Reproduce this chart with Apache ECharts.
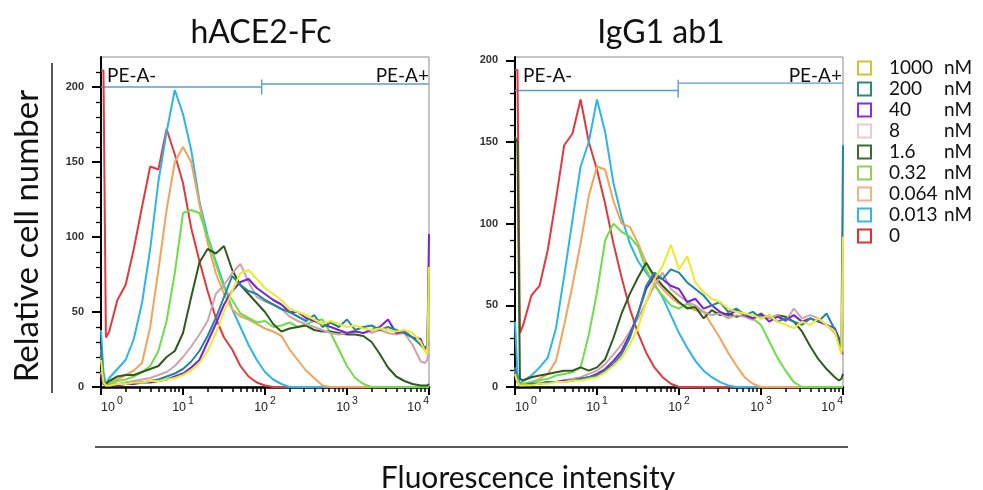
<!DOCTYPE html>
<html><head><meta charset="utf-8">
<script src="https://cdn.jsdelivr.net/npm/echarts@6/dist/echarts.min.js"></script>
<style>html,body{margin:0;padding:0;background:#fff}#c{width:983px;height:490px}</style>
</head><body><div id="c"></div>
<script>
// Fluorescence bins, in decades (log10 of intensity)
const logIntensity = [0, 0.03, 0.06,
  0.1,0.2,0.3,0.4,0.5,0.6,0.7,0.8,0.9,1.0,
  1.1,1.2,1.3,1.4,1.5,1.6,1.7,1.8,1.9,2.0,
  2.1,2.2,2.3,2.4,2.5,2.6,2.7,2.8,2.9,3.0,
  3.1,3.2,3.3,3.4,3.5,3.6,3.7,3.8,3.9,
  3.95,3.98,4.0];

const concentrations = ['1000 nM','200 nM','40 nM','8 nM','1.6 nM','0.32 nM','0.064 nM','0.013 nM','0'];
const panelTitles = ['hACE2-Fc', 'IgG1 ab1'];
const xTickExponents = [0, 1, 2, 3, 4];
const minorTickIntensities = [2,3,4,5,6,7,8,9, 20,30,40,50,60,70,80,90,
  200,300,400,500,600,700,800,900, 2000,3000,4000,5000,6000,7000,8000,9000];
const yMajorTicks = [0, 50, 100, 150, 200];
const yMinorTicksLeft = [10,20,30,40,60,70,80,90,110,120,130,140,160,170,180,190,210];
const yMinorTicksRight = [10,20,30,40,60,70,80,90,110,120,130,140,160,170,180,190];

// hACE2-Fc panel (relative cell number)
const hace2_1000 = [18,3,1, 1,2,2,3,3,4,4,5,6,8, 11,16,24,36,50,64,76,78,72,66, 62,58,52,50,48,45,42,44,42,40, 41,39,38,39,38,37,38,36,30, 24,22,80];
const hace2_200  = [28,4,1, 1,2,2,3,3,4,5,7,9,12, 17,24,34,46,60,74,68,64,62,58, 55,52,50,47,44,48,40,43,40,45, 38,40,41,38,40,38,36,33,28, 25,28,80];
const hace2_40   = [8,2,1, 1,1,2,2,3,3,4,5,7,9, 13,18,30,42,55,64,70,72,66,62, 58,55,50,50,46,44,42,40,38,36, 37,36,38,40,45,36,37,33,32, 25,28,102];
const hace2_8    = [10,2,1, 1,2,3,4,5,6,8,10,14,20, 27,35,44,62,68,76,82,70,60,57, 55,52,47,44,42,40,38,36,35,36, 38,40,36,38,36,35,36,28,17, 16,18,30];
const hace2_1p6  = [12,3,2, 4,7,8,8,10,12,14,20,24,36, 60,83,92,89,94,78,68,62,56,50, 42,37,39,40,41,38,37,37,36,35, 35,34,30,22,13,7,4,2,1, 1,1,2];
const hace2_0p32 = [20,5,1, 2,4,5,7,10,14,24,44,76,116, 118,116,100,82,66,58,49,46,43,44, 40,41,43,40,42,44,45,36,25,14, 6,2,0,0,0,0,0,0,0, 0,0,0];
const hace2_0p064= [25,5,1, 3,5,8,11,16,40,78,118,150,160, 150,122,96,76,62,52,47,45,42,39, 37,34,25,18,11,6,1,0,0,0, 0,0,0,0,0,0,0,0,0, 0,0,0];
const hace2_0p013= [38,10,2, 6,12,18,32,56,92,137,170,198,182, 158,124,101,84,68,52,40,28,18,10, 5,2,0,0,0,0,0,0,0,0, 0,0,0,0,0,0,0,0,0, 0,0,0];
const hace2_0    = [211,211,33, 37,58,68,92,120,147,145,172,155,136, 106,84,64,46,33,25,14,7,3,1, 0,0,0,0,0,0,0,0,0,0, 0,0,0,0,0,0,0,0,0, 0,0,0];

// IgG1 ab1 panel (relative cell number)
const igg_1000 = [8,3,1, 1,1,2,2,3,3,4,4,5,6, 9,13,18,26,36,52,66,74,87,72, 80,64,58,54,52,48,46,45,44,42, 44,40,38,36,40,38,42,38,34, 25,20,92];
const igg_200  = [12,3,1, 1,2,2,3,3,3,4,5,6,7, 10,14,20,30,45,62,70,66,72,70, 64,60,56,50,52,46,48,44,46,42, 44,40,42,40,38,42,40,45,35, 28,24,148];
const igg_40   = [12,3,1, 1,2,2,3,3,4,4,5,6,8, 11,16,22,32,45,60,68,66,62,60, 52,54,48,50,46,44,47,44,42,45, 40,43,41,44,40,42,40,38,36, 30,22,20];
const igg_8    = [8,3,1, 1,2,2,3,3,4,5,6,8,10, 14,20,26,34,42,52,62,70,60,56, 52,50,46,44,45,42,44,43,41,45, 42,44,40,48,42,44,42,38,33, 28,25,40];
const igg_1p6  = [153,150,5, 4,6,7,8,9,10,10,12,10,12, 17,30,45,57,67,76,68,62,57,52, 48,49,42,47,44,45,43,44,42,44, 42,44,43,40,34,25,17,11,6, 4,5,8];
const igg_0p32 = [10,3,1, 2,3,4,5,7,8,9,12,32,58, 90,100,95,92,86,72,62,56,50,48, 51,48,46,44,46,43,47,45,42,38, 28,18,10,3,0,0,0,0,0, 0,0,0];
const igg_0p064= [10,3,1, 2,3,5,8,16,38,62,88,117,135, 133,114,100,98,88,76,66,60,55,51, 49,47,46,38,30,21,13,6,2,0, 0,0,0,0,0,0,0,0,0, 0,0,0];
const igg_0p013= [40,8,2, 4,7,12,18,36,68,102,135,150,176, 156,125,104,88,77,70,63,55,44,33, 24,16,10,6,3,1,0,0,0,0, 0,0,0,0,0,0,0,0,0, 0,0,0];
const igg_0    = [194,194,33, 38,56,62,84,115,148,155,176,150,133, 112,88,67,48,33,21,12,6,2,0, 0,0,0,0,0,0,0,0,0,0, 0,0,0,0,0,0,0,0,0, 0,0,0];

// Gates: [split decade, PE-A- level, PE-A+ level, tick low, tick high]
const hace2Gate = [1.96, 200, 202, 195, 205];
const iggGate   = [1.99, 181.5, 186, 177, 188];

const hace2Series = [hace2_1000, hace2_200, hace2_40, hace2_8, hace2_1p6, hace2_0p32, hace2_0p064, hace2_0p013, hace2_0];
const iggSeries   = [igg_1000, igg_200, igg_40, igg_8, igg_1p6, igg_0p32, igg_0p064, igg_0p013, igg_0];

// styles
const lineColors = ['#eeea2a','#1f86a0','#7a22d2','#cfa3ab','#2f5a20','#6ede48','#f3a35a','#2cb6e6','#e03a40'];
const legendColors = ['#c9c832','#2e8b6e','#8b2be2','#f2caca','#3e6b30','#92d050','#f4b183','#33b8e0','#e03030'];
const FONT = 'Lato';

const chart = echarts.init(document.getElementById('c'), null, {renderer:'canvas', width:983, height:490});

const grids = [
  {left:101, top:57, width:328, height:330, show:true, borderColor:'#8a8a8a', borderWidth:1},
  {left:515, top:57, width:328, height:330, show:true, borderColor:'#8a8a8a', borderWidth:1}
];
const yMax = [220, 202];
const yMinor = [yMinorTicksLeft, yMinorTicksRight];

const xAxes = [], yAxes = [];
[0,1].forEach(g => {
  xAxes.push({gridIndex:g, type:'value', min:0, max:4, interval:1, position:'bottom',
    axisLine:{onZero:false, lineStyle:{color:'#000', width:2.5}},
    axisTick:{length:8, customValues:xTickExponents, lineStyle:{color:'#000', width:2}},
    splitLine:{show:false},
    axisLabel:{margin:9, alignMinLabel:'left', alignMaxLabel:'right', customValues:xTickExponents,
      formatter: v => '{b|10}{s|' + v + '}',
      rich:{b:{fontSize:12.5, fontFamily:'Liberation Sans', color:'#222', lineHeight:18, verticalAlign:'bottom'},
            s:{fontSize:10.5, fontFamily:'Liberation Sans', color:'#222', lineHeight:18, verticalAlign:'top', padding:[0,0,0,2]}}}
  });
  xAxes.push({gridIndex:g, type:'value', min:0, max:4, position:'bottom',
    axisLine:{show:false}, axisLabel:{show:false}, splitLine:{show:false},
    axisTick:{show:true, length:5, customValues: minorTickIntensities.map(v => Math.log10(v)), lineStyle:{color:'#000', width:1.5}}
  });
  yAxes.push({gridIndex:g, type:'value', min:0, max:yMax[g], interval:50, position:'left',
    axisLine:{show:true, onZero:false, lineStyle:{color:'#000', width:2}},
    axisTick:{show:true, length:9, customValues:yMajorTicks, lineStyle:{color:'#000', width:2}},
    axisLabel:{customValues:yMajorTicks, margin:17, fontSize:11, fontWeight:'bold', color:'#333', fontFamily:'Liberation Sans'},
    splitLine:{show:false}
  });
  yAxes.push({gridIndex:g, type:'value', min:0, max:yMax[g], position:'left',
    axisLine:{show:false}, axisLabel:{show:false}, splitLine:{show:false},
    axisTick:{show:true, length:5, customValues:yMinor[g], lineStyle:{color:'#000', width:1.3}}
  });
});

const series = [];
[hace2Series, iggSeries].forEach((set, g) => {
  // draw in order 0 ... 1000 so the high concentrations lie on top
  for (let k = set.length - 1; k >= 0; k--) {
    series.push({
      type:'line', name:concentrations[k], xAxisIndex:g*2, yAxisIndex:g*2,
      data: set[k].map((v, i) => [logIntensity[i], v]),
      showSymbol:false, symbol:'none', silent:true,
      lineStyle:{color:lineColors[k], width:2}, itemStyle:{color:lineColors[k]}
    });
  }
  const gate = g === 0 ? hace2Gate : iggGate;
  const gateStyle = {color:'#5b9bd5', width:1.4};
  [[[0, gate[1]], [gate[0], gate[1]]],
   [[gate[0], gate[2]], [4, gate[2]]],
   [[gate[0], gate[3]], [gate[0], gate[4]]]].forEach(seg => {
    series.push({type:'line', xAxisIndex:g*2, yAxisIndex:g*2, data:seg, showSymbol:false, symbol:'none',
      silent:true, lineStyle:gateStyle, z:1});
  });
});

const txt = (text, x, y, size, align, extra) => Object.assign({type:'text', x, y, silent:true,
  style:{text, fontSize:size, fontFamily:FONT, fill:'#111', align, verticalAlign:'middle'}}, extra || {});

chart.setOption({
  animation:false,
  backgroundColor:'#fff',
  grid:grids, xAxis:xAxes, yAxis:yAxes, series,
  legend:{
    orient:'vertical', left:857, top:58, padding:0, itemWidth:13, itemHeight:13, itemGap:1,
    selectedMode:false,
    data: concentrations.map((n, i) => ({name:n, icon:'rect',
      itemStyle:{color:'rgba(0,0,0,0)', borderColor:legendColors[i], borderWidth:2}})),
    formatter: name => {
      const p = name.split(' ');
      return p.length > 1 ? '{n|' + p[0] + '}{u|' + p[1] + '}' : '{n|' + name + '}';
    },
    textStyle:{lineHeight:20, rich:{
      n:{fontSize:19, fontFamily:FONT, color:'#111', width:55, lineHeight:20, padding:[0,0,0,13]},
      u:{fontSize:19, fontFamily:FONT, color:'#111', lineHeight:20}
    }}
  },
  graphic:[
    txt(panelTitles[0], 261, 33, 32, 'center'),
    txt(panelTitles[1], 661, 33, 32, 'center'),
    txt('Relative cell number', 27, 236, 33, 'center', {rotation:Math.PI/2}),
    txt('Fluorescence intensity', 528, 478, 30, 'center'),
    txt('PE-A-', 107, 76, 19, 'left'),
    txt('PE-A+', 429, 76, 19, 'right'),
    txt('PE-A-', 523, 76, 19, 'left'),
    txt('PE-A+', 842, 76, 19, 'right'),
    {type:'line', silent:true, shape:{x1:52, y1:63, x2:52, y2:393}, style:{stroke:'#222', lineWidth:1.5}},
    {type:'line', silent:true, shape:{x1:95, y1:447, x2:848, y2:447}, style:{stroke:'#222', lineWidth:1.5}}
  ]
});
</script></body></html>
